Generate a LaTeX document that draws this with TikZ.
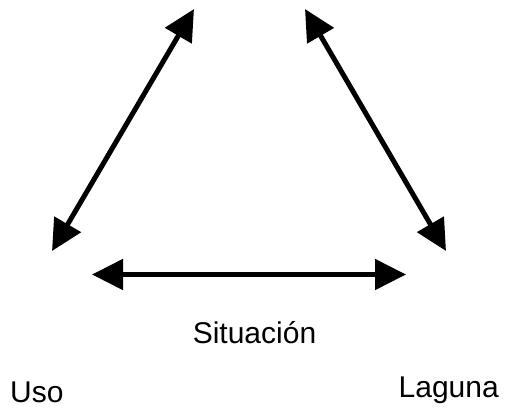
\documentclass[tikz,border=0pt]{standalone}
\usepackage{fontspec}
\setmainfont{Liberation Sans}
\usetikzlibrary{arrows.meta}
\begin{document}
\begin{tikzpicture}[x=1pt,y=-1pt,
  link/.style={line width=5pt,{Triangle[length=31pt,width=30pt]}-{Triangle[length=31pt,width=30pt]}},
  label/.style={font=\fontsize{30pt}{36pt}\selectfont,inner sep=0pt,anchor=base}]
\useasboundingbox (0,0) rectangle (507,413);
\coordinate (lt) at (194,9);
\coordinate (lb) at (52,251);
\coordinate (rt) at (305,9);
\coordinate (rb) at (446,251);
\coordinate (hl) at (92,274.5);
\coordinate (hr) at (406,274.5);
\draw[link] (lt) -- (lb);
\draw[link] (rt) -- (rb);
\draw[link] (hl) -- (hr);
\node[label] (sit) at (254.5,343) {Situación};
\node[label,anchor=base west] (uso) at (10,402) {Uso};
\node[label,anchor=base east] (lag) at (499,397) {Laguna};
\end{tikzpicture}
\end{document}
